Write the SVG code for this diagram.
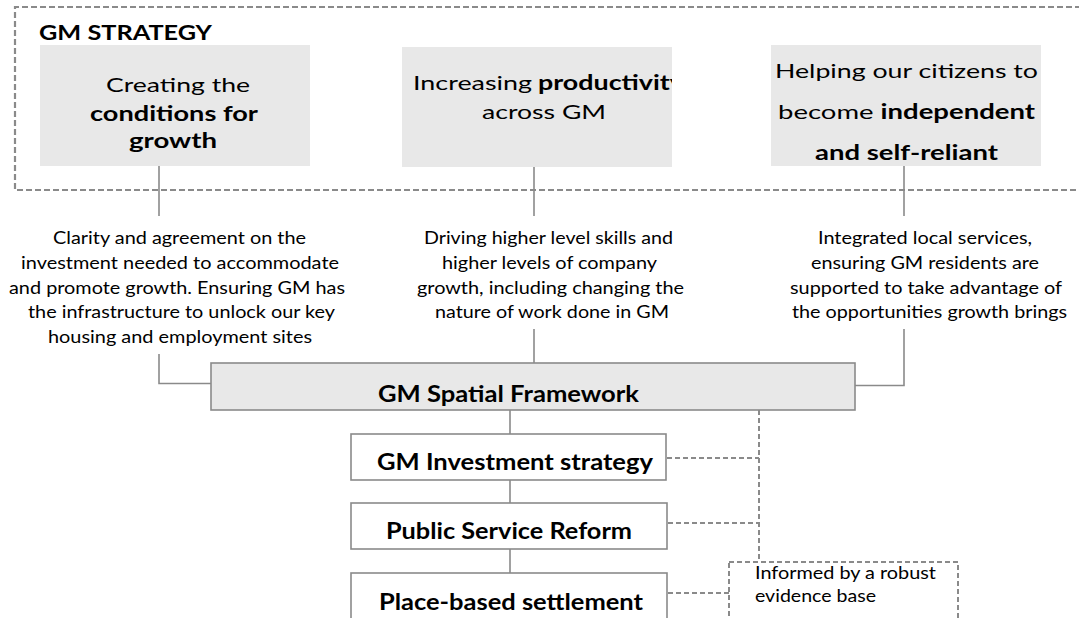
<svg xmlns="http://www.w3.org/2000/svg" width="1079" height="618" viewBox="0 0 1079 618">
  <style>
    text { font-family: Lato, "Liberation Sans", sans-serif; fill: #000; }
    .b { font-weight: bold; }
    .goal { font-size: 20px; }
    .desc { font-size: 17px; }
    .plan { font-size: 23.5px; font-weight: bold; }
    .note { font-size: 17px; }
    .grey { fill: #e8e8e8; }
    .box { stroke: #8a8a8a; stroke-width: 1.6; }
    .link { fill: none; stroke: #8a8a8a; stroke-width: 1.6; }
    .dash { fill: none; stroke: #8a8a8a; stroke-width: 2; stroke-dasharray: 5 3; }
    .frame { fill: none; stroke: #8a8a8a; stroke-width: 2.2; stroke-dasharray: 6 3; }
  </style>
  <defs>
    <clipPath id="clip-productivity">
      <rect x="402" y="47" width="270" height="120"/>
    </clipPath>
  </defs>

  <rect width="1079" height="618" fill="#fff"/>

  <!-- strategy frame -->
  <g id="strategy-frame">
    <path class="frame" d="M1090 7 H15 V190 H1090"/>
    <text x="39" y="40" class="b" font-size="21" textLength="173" lengthAdjust="spacingAndGlyphs">GM STRATEGY</text>
  </g>

  <!-- connectors -->
  <g id="connectors">
    <path class="link" d="M159 166 V216"/>
    <path class="link" d="M534 167 V216"/>
    <path class="link" d="M904 166 V216"/>
    <path class="link" d="M159 354 V383.5 H211"/>
    <path class="link" d="M534 329 V363"/>
    <path class="link" d="M904 329 V385.5 H855"/>
    <path class="link" d="M510 410 V434"/>
    <path class="link" d="M510 480 V503"/>
    <path class="link" d="M510 549 V573"/>
    <path class="dash" d="M759 410 V562"/>
    <path class="dash" d="M667 458 H759"/>
    <path class="dash" d="M668 523 H759"/>
    <path class="dash" d="M668 593 H729"/>
  </g>

  <!-- goal boxes -->
  <g id="goal-growth">
    <rect class="grey" x="40" y="45" width="270" height="121"/>
    <text class="goal" x="106" y="92" textLength="144" lengthAdjust="spacingAndGlyphs">Creating the</text>
    <text class="goal b" x="90" y="121" textLength="168" lengthAdjust="spacingAndGlyphs">conditions for</text>
    <text class="goal b" x="129" y="148" textLength="88" lengthAdjust="spacingAndGlyphs">growth</text>
  </g>

  <g id="goal-productivity">
    <rect class="grey" x="402" y="47" width="270" height="120"/>
    <text class="goal" x="413" y="90" textLength="119" lengthAdjust="spacingAndGlyphs">Increasing</text>
    <text class="goal b" x="538" y="90" textLength="146" lengthAdjust="spacingAndGlyphs" clip-path="url(#clip-productivity)">productivity</text>
    <text class="goal" x="482" y="119" textLength="124" lengthAdjust="spacingAndGlyphs">across GM</text>
  </g>

  <g id="goal-citizens">
    <rect class="grey" x="771" y="45" width="270" height="121"/>
    <text class="goal" x="775" y="78" textLength="263" lengthAdjust="spacingAndGlyphs">Helping our citizens to</text>
    <text class="goal" x="778" y="119" textLength="257" lengthAdjust="spacingAndGlyphs">become <tspan class="b">independent</tspan></text>
    <text class="goal b" x="815" y="160" textLength="183" lengthAdjust="spacingAndGlyphs">and self-reliant</text>
  </g>

  <!-- descriptions -->
  <g id="desc-growth">
    <text class="desc" x="53" y="244" textLength="253" lengthAdjust="spacingAndGlyphs">Clarity and agreement on the</text>
    <text class="desc" x="21" y="269" textLength="318" lengthAdjust="spacingAndGlyphs">investment needed to accommodate</text>
    <text class="desc" x="9" y="294" textLength="336" lengthAdjust="spacingAndGlyphs">and promote growth. Ensuring GM has</text>
    <text class="desc" x="28" y="318" textLength="307" lengthAdjust="spacingAndGlyphs">the infrastructure to unlock our key</text>
    <text class="desc" x="48" y="343" textLength="264" lengthAdjust="spacingAndGlyphs">housing and employment sites</text>
  </g>

  <g id="desc-productivity">
    <text class="desc" x="424" y="244" textLength="249" lengthAdjust="spacingAndGlyphs">Driving higher level skills and</text>
    <text class="desc" x="442" y="269" textLength="215" lengthAdjust="spacingAndGlyphs">higher levels of company</text>
    <text class="desc" x="417" y="294" textLength="267" lengthAdjust="spacingAndGlyphs">growth, including changing the</text>
    <text class="desc" x="435" y="318" textLength="234" lengthAdjust="spacingAndGlyphs">nature of work done in GM</text>
  </g>

  <g id="desc-citizens">
    <text class="desc" x="818" y="244" textLength="214" lengthAdjust="spacingAndGlyphs">Integrated local services,</text>
    <text class="desc" x="811" y="269" textLength="228" lengthAdjust="spacingAndGlyphs">ensuring GM residents are</text>
    <text class="desc" x="790" y="294" textLength="272" lengthAdjust="spacingAndGlyphs">supported to take advantage of</text>
    <text class="desc" x="792" y="318" textLength="275" lengthAdjust="spacingAndGlyphs">the opportunities growth brings</text>
  </g>

  <!-- plans -->
  <g id="spatial-framework">
    <rect class="grey box" x="211" y="363" width="644" height="47"/>
    <text class="plan" x="378" y="402" textLength="261" lengthAdjust="spacingAndGlyphs">GM Spatial Framework</text>
  </g>

  <g id="investment-strategy">
    <rect class="box" fill="#fff" x="351" y="434" width="315" height="46"/>
    <text class="plan" x="377" y="470" textLength="276" lengthAdjust="spacingAndGlyphs">GM Investment strategy</text>
  </g>

  <g id="public-service-reform">
    <rect class="box" fill="#fff" x="351" y="503" width="316" height="46"/>
    <text class="plan" x="386" y="539" textLength="246" lengthAdjust="spacingAndGlyphs">Public Service Reform</text>
  </g>

  <g id="place-based-settlement">
    <rect class="box" fill="#fff" x="351" y="573" width="316" height="60"/>
    <text class="plan" x="379" y="610" textLength="264" lengthAdjust="spacingAndGlyphs">Place-based settlement</text>
  </g>

  <g id="evidence-base">
    <rect class="dash" x="729" y="562" width="229" height="70"/>
    <text class="note" x="755" y="579" textLength="181" lengthAdjust="spacingAndGlyphs">Informed by a robust</text>
    <text class="note" x="755" y="602" textLength="121" lengthAdjust="spacingAndGlyphs">evidence base</text>
  </g>
</svg>
